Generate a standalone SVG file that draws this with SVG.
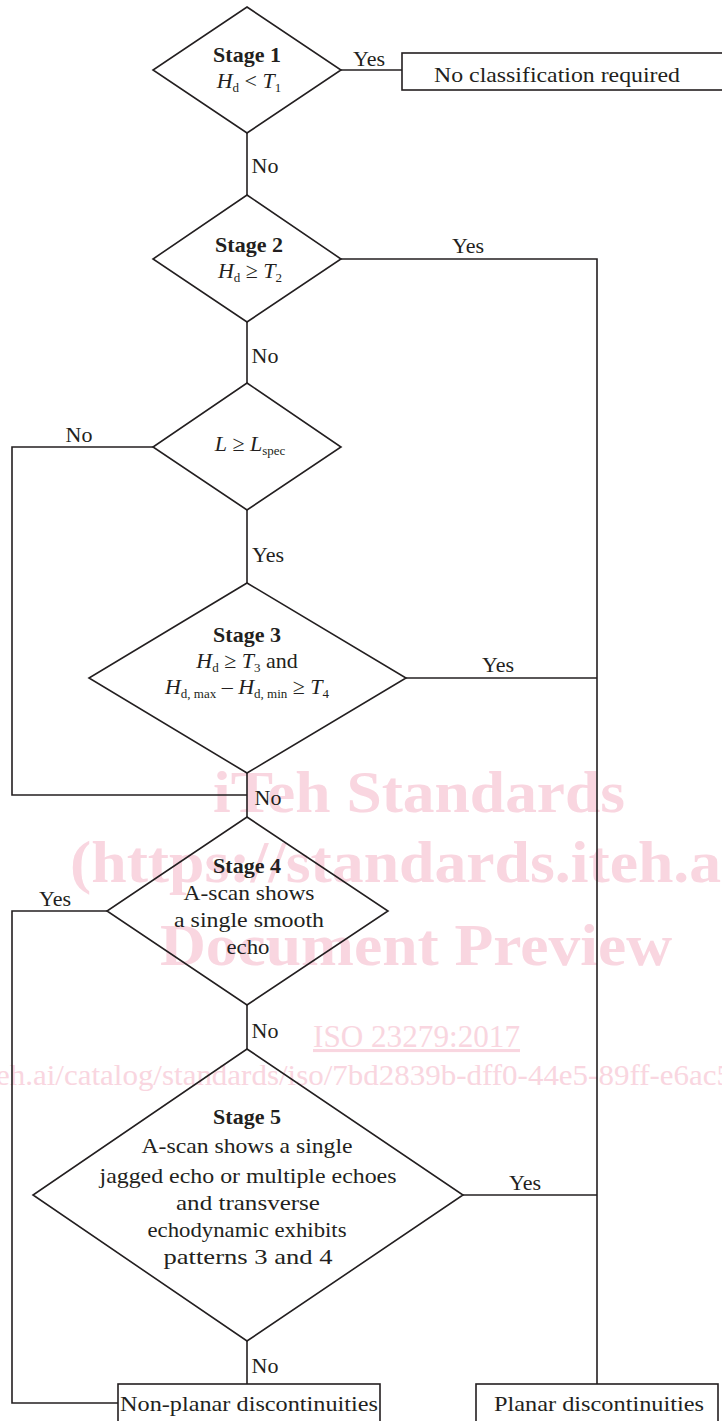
<svg xmlns="http://www.w3.org/2000/svg" width="722" height="1421" viewBox="0 0 722 1421">
<style>
.bg{fill:#fff}
.wm{font-family:"Liberation Serif",serif;fill:#f9d6e0}
.wmb{font-weight:bold}
.shape{fill:none;stroke:#231f20;stroke-width:1.6}
.box{fill:#fff;stroke:#231f20;stroke-width:1.6}
.conn{fill:none;stroke:#231f20;stroke-width:1.6}
text.t{font-family:"Liberation Serif",serif;font-size:22px;fill:#231f20;text-anchor:middle}
text.b{font-weight:bold}
.i{font-style:italic}
.s{font-size:13px}
</style>
<rect class="bg" x="0" y="0" width="722" height="1421"/>
<g id="watermark">
<text class="wm wmb" x="213" y="812" font-size="60" textLength="412" lengthAdjust="spacingAndGlyphs">iTeh Standards</text>
<text class="wm wmb" x="70" y="882" font-size="60" textLength="690" lengthAdjust="spacingAndGlyphs">(https://standards.iteh.ai)</text>
<text class="wm wmb" x="160" y="965" font-size="60" textLength="512" lengthAdjust="spacingAndGlyphs">Document Preview</text>
<text class="wm" x="313" y="1047" font-size="31" textLength="207" lengthAdjust="spacingAndGlyphs" text-decoration="underline">ISO 23279:2017</text>
<text class="wm" x="-4" y="1085" font-size="29" textLength="736" lengthAdjust="spacingAndGlyphs">eh.ai/catalog/standards/iso/7bd2839b-dff0-44e5-89ff-e6ac5</text>
</g>
<g id="connectors">
<path class="conn" d="M341,70 H402"/>
<path class="conn" d="M247,133 V195"/>
<path class="conn" d="M341,259 H597 V1384"/>
<path class="conn" d="M247,322 V383"/>
<path class="conn" d="M153,447 H12 V795 H247"/>
<path class="conn" d="M247,510 V583"/>
<path class="conn" d="M406,678 H597"/>
<path class="conn" d="M247,773 V817"/>
<path class="conn" d="M107,911 H12 V1403 H118"/>
<path class="conn" d="M247,1005 V1049"/>
<path class="conn" d="M463,1195 H597"/>
<path class="conn" d="M247,1341 V1384"/>
<text class="t" x="369" y="66">Yes</text>
<text class="t" x="265" y="173">No</text>
<text class="t" x="468" y="253">Yes</text>
<text class="t" x="265" y="363">No</text>
<text class="t" x="79" y="442">No</text>
<text class="t" x="268" y="562">Yes</text>
<text class="t" x="498" y="672">Yes</text>
<text class="t" x="268" y="805">No</text>
<text class="t" x="55" y="906">Yes</text>
<text class="t" x="265" y="1038">No</text>
<text class="t" x="525" y="1190">Yes</text>
<text class="t" x="265" y="1373">No</text>
</g>
<g id="stage1">
<polygon class="shape" points="247,7 341,70 247,133 153,70"/>
<text class="t b" x="247" y="62">Stage 1</text>
<text class="t" x="249" y="88"><tspan class="i">H</tspan><tspan class="s" dy="4">d</tspan><tspan dy="-4"> &lt; </tspan><tspan class="i">T</tspan><tspan class="s" dy="4">1</tspan></text>
</g>
<g id="noclass">
<rect class="box" x="402" y="53" width="330" height="37"/>
<text class="t" x="557" y="82" textLength="246" lengthAdjust="spacingAndGlyphs">No classification required</text>
</g>
<g id="stage2">
<polygon class="shape" points="247,195 341,259 247,322 153,259"/>
<text class="t b" x="249" y="252">Stage 2</text>
<text class="t" x="250" y="278"><tspan class="i">H</tspan><tspan class="s" dy="4">d</tspan><tspan dy="-4"> ≥ </tspan><tspan class="i">T</tspan><tspan class="s" dy="4">2</tspan></text>
</g>
<g id="lspec">
<polygon class="shape" points="247,383 341,447 247,510 153,447"/>
<text class="t" x="250" y="451"><tspan class="i">L</tspan><tspan> ≥ </tspan><tspan class="i">L</tspan><tspan class="s" dy="4">spec</tspan></text>
</g>
<g id="stage3">
<polygon class="shape" points="247,583 406,678 247,773 89,678"/>
<text class="t b" x="247" y="642">Stage 3</text>
<text class="t" x="247" y="668"><tspan class="i">H</tspan><tspan class="s" dy="4">d</tspan><tspan dy="-4"> ≥ </tspan><tspan class="i">T</tspan><tspan class="s" dy="4">3</tspan><tspan dy="-4"> and</tspan></text>
<text class="t" x="247" y="694"><tspan class="i">H</tspan><tspan class="s" dy="4">d, max</tspan><tspan dy="-4"> – </tspan><tspan class="i">H</tspan><tspan class="s" dy="4">d, min</tspan><tspan dy="-4"> ≥ </tspan><tspan class="i">T</tspan><tspan class="s" dy="4">4</tspan></text>
</g>
<g id="stage4">
<polygon class="shape" points="247,817 388,911 247,1005 107,911"/>
<text class="t b" x="247" y="873">Stage 4</text>
<text class="t" x="249" y="900" textLength="131" lengthAdjust="spacingAndGlyphs">A-scan shows</text>
<text class="t" x="249" y="927" textLength="150" lengthAdjust="spacingAndGlyphs">a single smooth</text>
<text class="t" x="248" y="954" textLength="43" lengthAdjust="spacingAndGlyphs">echo</text>
</g>
<g id="stage5">
<polygon class="shape" points="247,1049 463,1195 247,1341 33,1195"/>
<text class="t b" x="247" y="1124">Stage 5</text>
<text class="t" x="247" y="1153" textLength="211" lengthAdjust="spacingAndGlyphs">A-scan shows a single</text>
<text class="t" x="248" y="1183" textLength="297" lengthAdjust="spacingAndGlyphs">jagged echo or multiple echoes</text>
<text class="t" x="248" y="1210" textLength="144" lengthAdjust="spacingAndGlyphs">and transverse</text>
<text class="t" x="247" y="1237" textLength="199" lengthAdjust="spacingAndGlyphs">echodynamic exhibits</text>
<text class="t" x="248" y="1264" textLength="169" lengthAdjust="spacingAndGlyphs">patterns 3 and 4</text>
</g>
<g id="nonplanar">
<rect class="box" x="118" y="1384" width="262" height="45"/>
<text class="t" x="249" y="1411" textLength="258" lengthAdjust="spacingAndGlyphs">Non-planar discontinuities</text>
</g>
<g id="planar">
<rect class="box" x="476" y="1384" width="242" height="45"/>
<text class="t" x="599" y="1411" textLength="210" lengthAdjust="spacingAndGlyphs">Planar discontinuities</text>
</g>
</svg>
